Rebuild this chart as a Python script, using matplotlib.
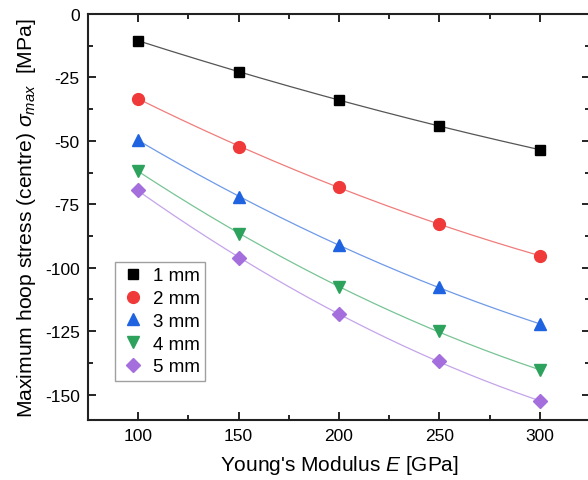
import matplotlib
matplotlib.use("Agg")
import matplotlib.pyplot as plt
import numpy as np
from matplotlib.ticker import MultipleLocator

plt.rcParams['font.family'] = ['Liberation Sans', 'DejaVu Sans']
plt.rcParams['mathtext.fontset'] = 'custom'
plt.rcParams['mathtext.it'] = 'Liberation Sans:italic'
plt.rcParams['mathtext.rm'] = 'Liberation Sans'
plt.rcParams['axes.unicode_minus'] = False

# Young's modulus [GPa]
modulus = [100, 150, 200, 250, 300]

# max hoop stress [MPa] per thickness
s_1mm = [-10.5, -22.8, -33.9, -44.1, -53.5]
s_2mm = [-33.3, -52.3, -68.2, -82.8, -95.3]
s_3mm = [-49.7, -72.0, -91.1, -107.7, -122.2]
s_4mm = [-61.8, -86.7, -107.4, -125.0, -140.4]
s_5mm = [-69.5, -96.2, -118.2, -136.8, -152.6]

labels = ['1 mm', '2 mm', '3 mm', '4 mm', '5 mm']
series = [s_1mm, s_2mm, s_3mm, s_4mm, s_5mm]
markers = ['s', 'o', '^', 'v', 'D']
colors = ['#000000', '#f03a3a', '#1f63e0', '#2ca25c', '#a46fdc']
line_colors = ['#555555', '#f07c7c', '#6f9ae8', '#78c494', '#c4a4ea']
msizes = [7.5, 8.5, 9, 9, 7.5]

fig = plt.figure(figsize=(5.88, 4.81), dpi=100)
ax = fig.add_axes([0.1497, 0.1247, 0.8537, 0.8441])

xs = np.linspace(100, 300, 200)
for vals, lab, m, c, lc, ms in zip(series, labels, markers, colors, line_colors, msizes):
    # smooth guide line through the points
    p = np.polyfit(modulus, vals, 2)
    ax.plot(xs, np.polyval(p, xs), color=lc, lw=0.9, zorder=2)
    ax.plot(modulus, vals, linestyle='none', marker=m, color=c, ms=ms,
            label=lab, zorder=3)

ax.set_xlim(75, 325)
ax.set_ylim(-160, 0)
ax.xaxis.set_major_locator(MultipleLocator(50))
ax.xaxis.set_minor_locator(MultipleLocator(25))
ax.yaxis.set_major_locator(MultipleLocator(25))
ax.yaxis.set_minor_locator(MultipleLocator(12.5))
ax.tick_params(which='both', direction='in', top=True, right=True,
               labelsize=12.5, width=1.2, pad=6)
ax.tick_params(which='major', length=6)
ax.tick_params(which='minor', length=3.5)
for sp in ax.spines.values():
    sp.set_linewidth(1.5)
    sp.set_color('#222222')

ax.set_xlabel("Young's Modulus $E$ [GPa]", fontsize=15, labelpad=7)
ax.set_ylabel(r"Maximum hoop stress (centre) $\sigma_{max}$  [MPa]",
              fontsize=15.2, labelpad=5)

leg = ax.legend(loc='lower left', bbox_to_anchor=(0.054, 0.096), fontsize=13.5,
                frameon=True, fancybox=False, handletextpad=0.4,
                borderpad=0.3, labelspacing=0.3, handlelength=1.3,
                borderaxespad=0)
leg.get_frame().set_edgecolor('#888888')
leg.get_frame().set_linewidth(1.0)

fig.savefig('out.png', dpi=100)
